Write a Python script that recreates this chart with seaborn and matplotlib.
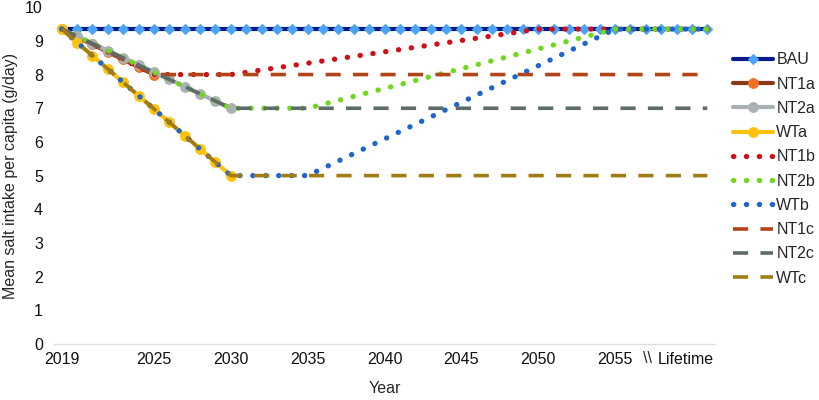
import matplotlib
matplotlib.use("Agg")
import matplotlib.pyplot as plt
import seaborn as sns
import pandas as pd

sns.set_style("white")
plt.rcParams["font.family"] = ["Liberation Sans Narrow", "Liberation Sans", "DejaVu Sans"]

# business as usual, one marker per year up to the lifetime horizon
bau_years = list(range(2019, 2062))
bau_vals = [9.35] * len(bau_years)

# "a" scenarios: yearly phase-down to the target
nt1a_years = [2019, 2020, 2021, 2022, 2023, 2024, 2025]
nt1a_vals = [9.35, 9.12, 8.9, 8.67, 8.45, 8.22, 8.0]
nt2a_years = list(range(2019, 2031))
nt2a_vals = [9.35, 9.14, 8.92, 8.71, 8.5, 8.28, 8.07, 7.86, 7.64, 7.43, 7.21, 7.0]
wta_years = list(range(2019, 2031))
wta_vals = [9.35, 8.95, 8.56, 8.16, 7.77, 7.37, 6.98, 6.58, 6.19, 5.79, 5.4, 5.0]

# "b" scenarios: hold five years then rebound to BAU
nt1b_years = [2019, 2025, 2030, 2050, 2061]
nt1b_vals = [9.35, 8.0, 8.0, 9.35, 9.35]
nt2b_years = [2019, 2030, 2035, 2055, 2061]
nt2b_vals = [9.35, 7.0, 7.0, 9.35, 9.35]
wtb_years = [2019, 2030, 2035, 2055, 2061]
wtb_vals = [9.35, 5.0, 5.0, 9.35, 9.35]

# "c" scenarios: target kept for life
nt1c_years = [2019, 2025, 2061]
nt1c_vals = [9.35, 8.0, 8.0]
nt2c_years = [2019, 2030, 2061]
nt2c_vals = [9.35, 7.0, 7.0]
wtc_years = [2019, 2030, 2061]
wtc_vals = [9.35, 5.0, 5.0]

tick_years = [2019, 2025, 2030, 2035, 2040, 2045, 2050, 2055]
tick_labels = ["2019", "2025", "2030", "2035", "2040", "2045", "2050", "2055"]

dot = (0, (0.05, 2.4))
dash = (0, (4.2, 3.4))

series = [
    ("BAU", bau_years, bau_vals, dict(color="#0b1a86", lw=3, marker="D", ms=5,
                                      mfc="#4aa3f5", mec="#4aa3f5")),
    ("NT1a", nt1a_years, nt1a_vals, dict(color="#8c3a14", lw=3, marker="o", ms=7,
                                         mfc="#f07228", mec="#f07228")),
    ("NT2a", nt2a_years, nt2a_vals, dict(color="#a9b2b2", lw=3, marker="o", ms=7,
                                         mfc="#a9b2b2", mec="#a9b2b2")),
    ("WTa", wta_years, wta_vals, dict(color="#ffc20e", lw=3, marker="o", ms=7,
                                      mfc="#ffc20e", mec="#ffc20e")),
    ("NT1b", nt1b_years, nt1b_vals, dict(color="#cf1018", lw=3.8, ls=dot,
                                         dash_capstyle="round")),
    ("NT2b", nt2b_years, nt2b_vals, dict(color="#6fd81a", lw=3.8, ls=dot,
                                         dash_capstyle="round")),
    ("WTb", wtb_years, wtb_vals, dict(color="#1f66cc", lw=3.8, ls=dot,
                                      dash_capstyle="round")),
    ("NT1c", nt1c_years, nt1c_vals, dict(color="#b2441a", lw=2.6, ls=dash)),
    ("NT2c", nt2c_years, nt2c_vals, dict(color="#5f6b6b", lw=2.6, ls=dash)),
    ("WTc", wtc_years, wtc_vals, dict(color="#a07c12", lw=2.6, ls=dash)),
]

fig, ax = plt.subplots(figsize=(8.19, 4.0), dpi=100)
fig.subplots_adjust(left=0.066, right=0.873, bottom=0.14, top=0.982)

for name, xs, ys, style in series:
    df = pd.DataFrame({"year": xs, "value": ys})
    sns.lineplot(data=df, x="year", y="value", ax=ax, label=name, **style)

ax.set_xlim(2018.5, 2061.5)
ax.set_ylim(0, 10)
ax.set_yticks(range(0, 11))
ax.set_xticks(tick_years + [2059.6])
ax.set_xticklabels(tick_labels + ["Lifetime"])
ax.text(2057.1, -0.2, "\\\\", ha="center", va="top", fontsize=11.5,
        transform=ax.transData)
ax.tick_params(axis="both", length=0, labelsize=11.5, colors="#111111")
ax.tick_params(axis="x", pad=6)
ax.tick_params(axis="y", pad=8)

for s in ["top", "right", "left"]:
    ax.spines[s].set_visible(False)
ax.spines["bottom"].set_color("#d9dede")
ax.spines["bottom"].set_linewidth(1)

ax.set_xlabel("Year", fontsize=11.5, labelpad=10)
ax.set_ylabel("Mean salt intake per capita (g/day)", fontsize=11.5, labelpad=5)

ax.legend(loc="upper left", bbox_to_anchor=(1.018, 0.885), frameon=False,
          fontsize=11.5, handlelength=2.5, handletextpad=0.2, labelspacing=0.58,
          borderaxespad=0.0)

plt.savefig("out.png", dpi=100)
